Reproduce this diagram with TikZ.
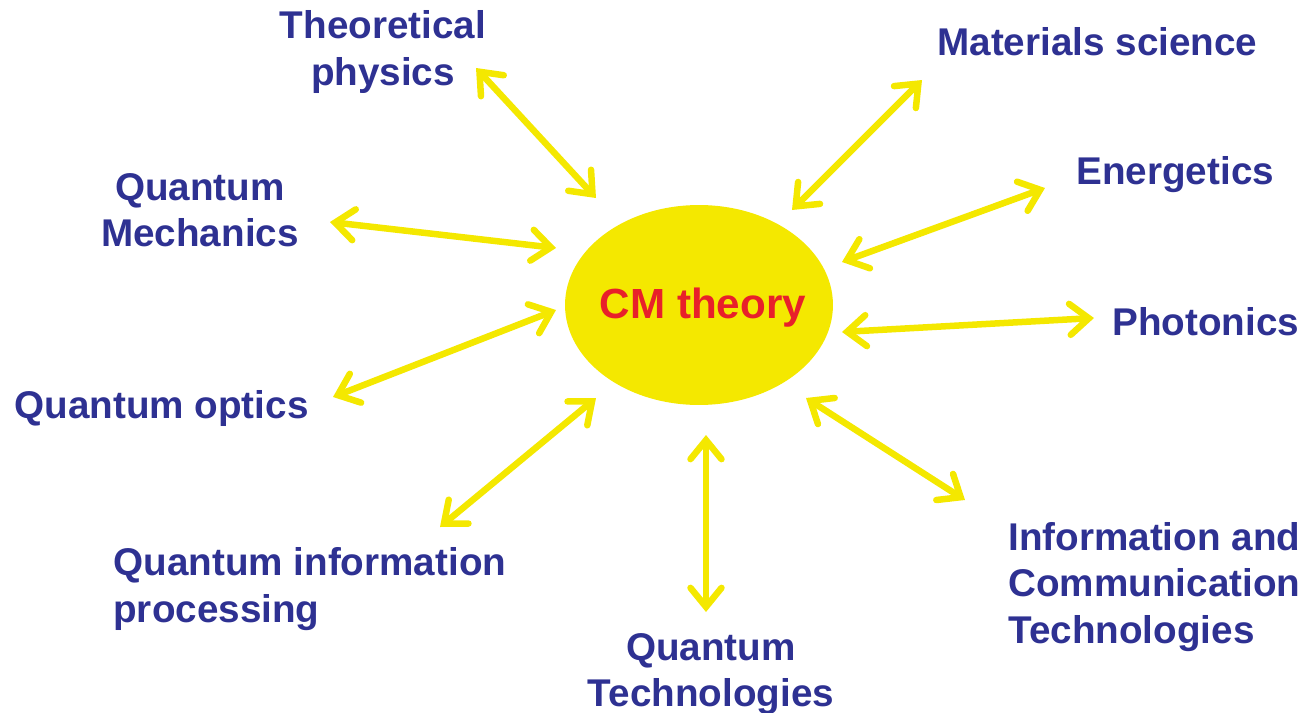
\documentclass[tikz,border=0pt]{standalone}
\usepackage{fontspec}
\setmainfont{Liberation Sans}
\usetikzlibrary{arrows.meta,shapes.geometric}
\definecolor{navy}{HTML}{2E3192}
\definecolor{sun}{HTML}{F4E800}
\definecolor{cmred}{HTML}{E8202A}
\begin{document}
\begin{tikzpicture}[x=0.02cm,y=-0.02cm,
  lbl/.style={text=navy,font=\fontsize{22}{26.5}\selectfont\bfseries,inner sep=0pt},
  link/.style={draw=sun,line width=0.13cm,line cap=round,
    {Straight Barb[length=0.38cm,width=0.62cm,line cap=round]}-{Straight Barb[length=0.38cm,width=0.62cm,line cap=round]}}]
\useasboundingbox (0,0) rectangle (1305,713);
\node[ellipse,fill=sun,minimum width=5.36cm,minimum height=4cm,inner sep=0pt] (cm) at (699,305) {};
\node[text=cmred,font=\fontsize{24}{28}\selectfont\bfseries,inner sep=0pt] (cmt) at (703,308) {CM theory};
% labels
\node[lbl,align=center] (tp) at (383,52) {Theoretical\\physics};
\node[lbl,anchor=west] (ms) at (937,42) {Materials science};
\node[lbl,anchor=west] (en) at (1076,175) {Energetics};
\node[lbl,anchor=west] (ph) at (1112,322) {Photonics};
\node[lbl,align=left,anchor=west] (ic) at (1008,587) {Information and\\Communication\\Technologies};
\node[lbl,align=center] (qt) at (711,674) {Quantum\\Technologies};
\node[lbl,align=left,anchor=west] (qi) at (113,589) {Quantum information\\processing};
\node[lbl,anchor=west] (qo) at (14,409) {Quantum optics};
\node[lbl,align=center] (qm) at (200,210) {Quantum\\Mechanics};
% arrow ends
\coordinate (tpa) at (476,68);  \coordinate (tpb) at (596,198);
\coordinate (msa) at (922,80);  \coordinate (msb) at (792,210);
\coordinate (ena) at (1045,188); \coordinate (enb) at (842,262);
\coordinate (pha) at (1094,318); \coordinate (phb) at (842,332);
\coordinate (ica) at (965,500); \coordinate (icb) at (806,398);
\coordinate (qta) at (706,612); \coordinate (qtb) at (706,435);
\coordinate (qia) at (440,527); \coordinate (qib) at (596,398);
\coordinate (qoa) at (333,397); \coordinate (qob) at (556,310);
\coordinate (qma) at (330,222); \coordinate (qmb) at (556,248);
\foreach \n in {tp,ms,en,ph,ic,qt,qi,qo,qm}{
  \draw[link] (\n a) -- (\n b);
}
\end{tikzpicture}
\end{document}
